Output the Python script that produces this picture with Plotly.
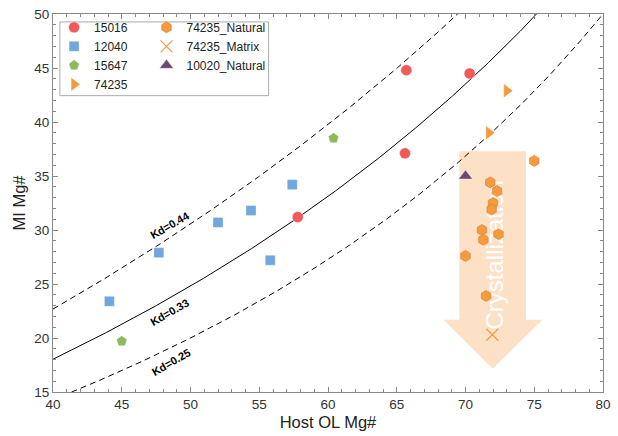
import numpy as np
import plotly.graph_objects as go

# ---------------- data ----------------
s15016_x = [65.7, 70.3, 65.6, 57.8]
s15016_y = [44.8, 44.5, 37.1, 31.2]

s12040_x = [44.1, 47.7, 52.0, 54.4, 55.8, 57.4]
s12040_y = [23.4, 27.9, 30.7, 31.8, 27.2, 34.2]

s15647_x = [45.0, 60.4]
s15647_y = [19.7, 38.5]

s74235_x = [73.0, 71.7]
s74235_y = [42.9, 39.0]

nat74235_x = [75.0, 71.8, 72.3, 72.0, 71.9, 71.2, 72.4, 71.3, 70.0, 71.5]
nat74235_y = [36.4, 34.4, 33.6, 32.5, 31.9, 30.0, 29.6, 29.1, 27.6, 23.9]

mat74235_x = [71.95]
mat74235_y = [20.3]

nat10020_x = [70.0]
nat10020_y = [35.0]

kd_values = [0.44, 0.33, 0.25]
kd_dash = ["6px,4px", "solid", "6px,4px"]
kd_label_pos = [(48.5, 30.5), (48.5, 22.45), (48.6, 17.75)]

x_ticks = [40, 45, 50, 55, 60, 65, 70, 75, 80]
y_ticks = [15, 20, 25, 30, 35, 40, 45, 50]

# arrow outline (annotation) in data units
arrow_shaft = (69.55, 74.4, 37.3, 21.7)  # x0, x1, ytop, ybase
arrow_head = (68.4, 75.6, 71.97, 17.15)  # xleft, xright, xtip, ytip
arrow_text_y = (21.0, 34.4)

FONT = "Liberation Sans, Arial, sans-serif"

fig = go.Figure()

# Kd curves
fo = np.linspace(40, 80, 400)
for kd, dash in zip(kd_values, kd_dash):
    f = fo / 100.0
    mi = 100 * f * kd / (f * kd + 1 - f)
    fig.add_trace(go.Scatter(x=fo, y=mi, mode="lines",
                             line=dict(color="black", width=1, dash=dash),
                             showlegend=False, hoverinfo="skip"))

red = "#F05A5B"
blue = "#6FA7DE"
green = "#8DB95B"
orange = "#F59A3E"
purple = "#6A4A72"

def add(x, y, name, symbol, color, size, legend, outline="rgba(255,255,255,0.6)", lw=0.6):
    fig.add_trace(go.Scatter(x=x, y=y, mode="markers", name=name,
                             marker=dict(symbol=symbol, color=color, size=size,
                                         line=dict(color=outline, width=lw)),
                             legend=legend))

add(s15016_x, s15016_y, "15016", "circle", red, 11, "legend")
add(s12040_x, s12040_y, "12040", "square", blue, 10, "legend")
add(s15647_x, s15647_y, "15647", "pentagon", green, 11, "legend")
add(s74235_x, s74235_y, "74235", "triangle-right", orange, 12, "legend")
add(nat74235_x, nat74235_y, "74235_Natural", "hexagon", orange, 11, "legend2",
    outline="#D9822E", lw=0.6)
fig.add_trace(go.Scatter(x=mat74235_x, y=mat74235_y, mode="markers", name="74235_Matrix",
                         marker=dict(symbol="x-thin-open", color=orange, size=12,
                                     line=dict(color=orange, width=1.2)),
                         legend="legend2"))
add(nat10020_x, nat10020_y, "10020_Natural", "triangle-up", purple, 12, "legend2")

# arrow shape (below traces)
sx0, sx1, syt, syb = arrow_shaft
hx0, hx1, hxt, hyt = arrow_head
path = (f"M {sx0},{syt} L {sx1},{syt} L {sx1},{syb} L {hx1},{syb} "
        f"L {hxt},{hyt} L {hx0},{syb} L {sx0},{syb} Z")
fig.add_shape(type="path", path=path, xref="x", yref="y",
              fillcolor="#FDE1C7", line=dict(width=0), layer="below")

# arrow label (a shape label so that markers stay on top of it)
fig.add_shape(type="rect", xref="x", yref="y",
              x0=sx0, x1=sx1, y0=arrow_text_y[0], y1=arrow_text_y[1],
              line=dict(width=0), fillcolor="rgba(0,0,0,0)", layer="below",
              label=dict(text="Crystallization", textangle=-90,
                         textposition="middle center",
                         font=dict(family=FONT, size=24, color="white")))

# Kd labels
for kd, (lx, ly) in zip(kd_values, kd_label_pos):
    fig.add_annotation(x=lx, y=ly, xref="x", yref="y", text=f"<b>Kd={kd:.2f}</b>",
                       textangle=-30, showarrow=False,
                       font=dict(family=FONT, size=11, color="black"))

# legend border box
fig.add_shape(type="rect", xref="paper", yref="paper",
              x0=0.0125, x1=0.392, y0=0.784, y1=0.979,
              line=dict(color="#AAAAAA", width=1), fillcolor="white", layer="below")

axis_common = dict(showgrid=False, zeroline=False, showline=True, mirror="ticks",
                   linecolor="#888888", linewidth=1, ticks="inside", ticklen=5,
                   tickcolor="#888888", tickwidth=1,
                   tickfont=dict(family=FONT, size=13.5, color="#333333"),
                   minor=dict(ticks="inside", ticklen=3, tickcolor="#888888", dtick=1))

fig.update_xaxes(range=[40, 80], tickvals=x_ticks, ticktext=[str(v) for v in x_ticks],
                 title=dict(text="Host OL Mg#", font=dict(family=FONT, size=16.5, color="#222"),
                            standoff=5),
                 **axis_common)
fig.update_yaxes(range=[15, 50], tickvals=y_ticks, ticktext=[str(v) for v in y_ticks],
                 title=dict(text="MI Mg#", font=dict(family=FONT, size=16.5, color="#222"),
                            standoff=4),
                 **axis_common)

leg_common = dict(bgcolor="rgba(0,0,0,0)", borderwidth=0,
                  font=dict(family=FONT, size=12, color="#222"),
                  xanchor="left", yanchor="top", itemsizing="trace")

fig.update_layout(
    width=618, height=436,
    margin=dict(l=53, r=7, t=12, b=39),
    plot_bgcolor="white", paper_bgcolor="white",
    legend=dict(x=0.002, y=1.003, **leg_common),
    legend2=dict(x=0.17, y=1.003, **leg_common),
)

fig.write_html("out.html")
